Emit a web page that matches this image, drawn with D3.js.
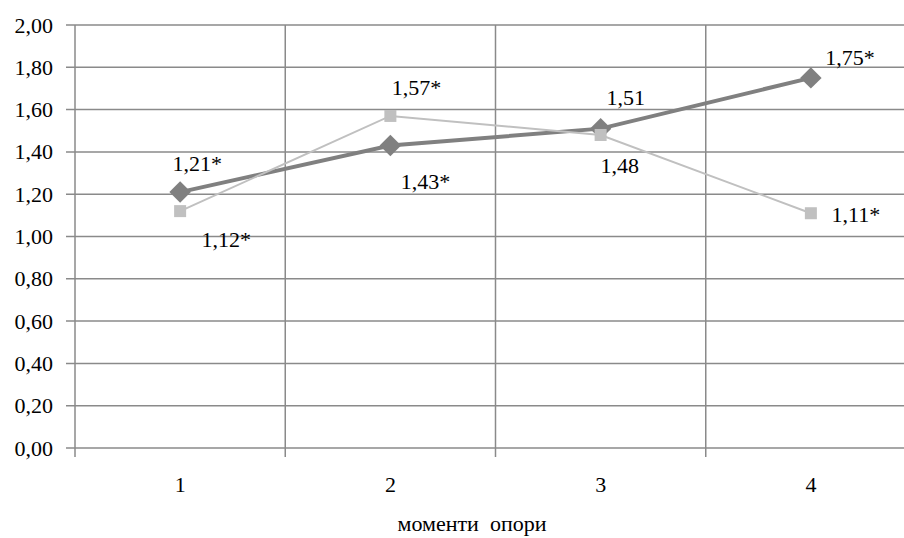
<!DOCTYPE html>
<html>
<head>
<meta charset="utf-8">
<style>
  body { margin: 0; background: #fff; }
  svg { display: block; }
  text { font-family: "Liberation Serif", "Times New Roman", serif; fill: #000; }
  .axis path { display: none; }
  .axis line { stroke: #8a8a8a; stroke-width: 1.5; }
  .grid line { stroke: #8a8a8a; stroke-width: 1.5; }
</style>
<script src="https://cdn.jsdelivr.net/npm/d3@7"></script>
</head>
<body>
<script>
// data
var categories = ['1', '2', '3', '4'];
var seriesDark = [1.21, 1.43, 1.51, 1.75];
var seriesLight = [1.12, 1.57, 1.48, 1.11];
var labelsDark = ['1,21*', '1,43*', '1,51', '1,75*'];
var labelsLight = ['1,12*', '1,57*', '1,48', '1,11*'];
var yTicks = [0, 0.2, 0.4, 0.6, 0.8, 1.0, 1.2, 1.4, 1.6, 1.8, 2.0];
var xTitle = 'моменти  опори';

// label placement (pixel offsets from the point)
var offDark = [[17, -21], [35, 43], [25, -24], [39, -13]];
var offLight = [[46, 36], [26, -21], [19, 38], [45, 9]];

var W = 904, H = 538;
var mLeft = 75, mRight = 916, mTop = 25, mBottom = 448;

var svg = d3.select('body').append('svg')
  .attr('width', W).attr('height', H);

var x = d3.scaleBand().domain(categories).range([mLeft, mRight]);
var y = d3.scaleLinear().domain([0, 2]).range([mBottom, mTop]);
var fmt = function(d) { return d3.format('.2f')(d).replace('.', ','); };

// horizontal grid
svg.append('g').attr('class', 'grid')
  .selectAll('line').data(yTicks).enter().append('line')
  .attr('x1', mLeft - 9).attr('x2', W + 20)
  .attr('y1', function(d) { return y(d); })
  .attr('y2', function(d) { return y(d); });

// vertical grid at category boundaries (plus axis)
var bounds = categories.map(function(c) { return x(c); });
svg.append('g').attr('class', 'grid')
  .selectAll('line').data(bounds).enter().append('line')
  .attr('x1', function(d) { return d; })
  .attr('x2', function(d) { return d; })
  .attr('y1', mTop).attr('y2', mBottom + 9);

// y axis labels
var yAxis = d3.axisLeft(y).tickValues(yTicks).tickFormat(fmt).tickSize(0).tickPadding(22);
svg.append('g').attr('class', 'axis')
  .attr('transform', 'translate(' + mLeft + ',0)')
  .call(yAxis)
  .selectAll('text').style('font-size', '22px')
  .attr('font-family', null);

// x axis labels
var xAxis = d3.axisBottom(x).tickSize(0).tickPadding(28);
svg.append('g').attr('class', 'axis')
  .attr('transform', 'translate(0,' + mBottom + ')')
  .call(xAxis)
  .selectAll('text').style('font-size', '22px')
  .attr('font-family', null);

svg.append('text')
  .attr('x', 472).attr('y', 531)
  .attr('text-anchor', 'middle')
  .style('font-size', '22px')
  .style('white-space', 'pre')
  .text(xTitle);

var cx = function(d, i) { return x(categories[i]) + x.bandwidth() / 2; };

var line = d3.line()
  .x(function(d, i) { return cx(d, i); })
  .y(function(d) { return y(d); });

// dark series
svg.append('path').datum(seriesDark)
  .attr('d', line)
  .attr('fill', 'none')
  .attr('stroke', '#808080')
  .attr('stroke-width', 4);

svg.selectAll('.diamond').data(seriesDark).enter().append('path')
  .attr('class', 'diamond')
  .attr('d', d3.symbol().type(d3.symbolSquare).size(230))
  .attr('transform', function(d, i) {
    return 'translate(' + cx(d, i) + ',' + y(d) + ') rotate(45)';
  })
  .attr('fill', '#808080');

// light series
svg.append('path').datum(seriesLight)
  .attr('d', line)
  .attr('fill', 'none')
  .attr('stroke', '#c0c0c0')
  .attr('stroke-width', 2);

svg.selectAll('.sq').data(seriesLight).enter().append('rect')
  .attr('class', 'sq')
  .attr('x', function(d, i) { return cx(d, i) - 6; })
  .attr('y', function(d) { return y(d) - 6; })
  .attr('width', 12).attr('height', 12)
  .attr('fill', '#c0c0c0');

// data labels
svg.selectAll('.lblD').data(seriesDark).enter().append('text')
  .attr('class', 'lblD')
  .attr('x', function(d, i) { return cx(d, i) + offDark[i][0]; })
  .attr('y', function(d, i) { return y(d) + offDark[i][1]; })
  .attr('text-anchor', 'middle')
  .style('font-size', '22px')
  .text(function(d, i) { return labelsDark[i]; });

svg.selectAll('.lblL').data(seriesLight).enter().append('text')
  .attr('class', 'lblL')
  .attr('x', function(d, i) { return cx(d, i) + offLight[i][0]; })
  .attr('y', function(d, i) { return y(d) + offLight[i][1]; })
  .attr('text-anchor', 'middle')
  .style('font-size', '22px')
  .text(function(d, i) { return labelsLight[i]; });
</script>
</body>
</html>
